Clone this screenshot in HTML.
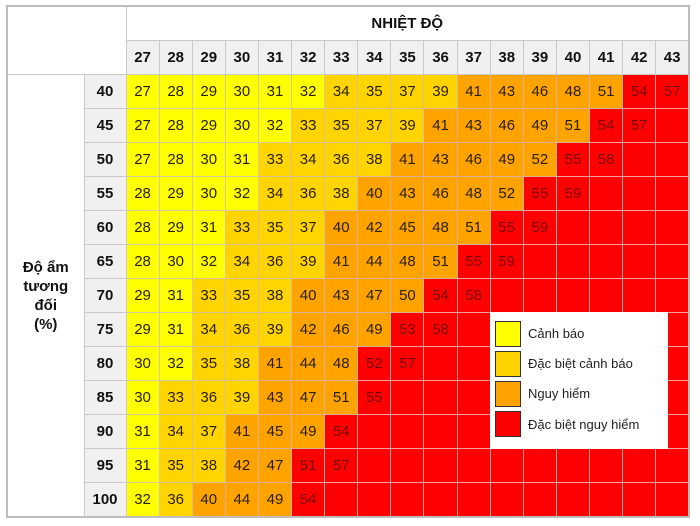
<!DOCTYPE html>
<html><head><meta charset="utf-8"><style>
body{margin:0;background:#fff;width:700px;height:526px;overflow:hidden;font-family:"Liberation Sans",sans-serif;}
table{position:absolute;left:6px;top:5px;border-collapse:collapse;table-layout:fixed;width:684px;border:2px solid #bdbdbd;}
td{border:1px solid #c9c9c9;height:33px;padding:0;text-align:center;font-size:15px;color:#2a2000;}
.h{background:#f0f0f0;font-weight:bold;color:#111;}
.y{background:#ffff00;border-color:#d4c9a0}
.g{background:#ffd400;border-color:#d8c090}
.o{background:#ffa300;border-color:#dcb090}
.r{background:#ff0000;color:#7a0000;border-color:#f4a0a0}
.legend{position:absolute;left:490px;top:312px;width:178px;height:137px;background:#fff;}
.sw{position:absolute;left:5px;width:24px;height:24px;border:1.5px solid #333;}
.lt{position:absolute;left:38px;font-size:13px;color:#222;}
</style></head><body>
<table>
<colgroup><col style="width:77px"><col style="width:42px"><col span="17"></colgroup>
<tr><td rowspan="2" colspan="2" style="background:#fff"></td><td colspan="17" style="background:#fff;font-weight:bold;font-size:15px;color:#111">NHIỆT ĐỘ</td></tr>
<tr><td class="h">27</td><td class="h">28</td><td class="h">29</td><td class="h">30</td><td class="h">31</td><td class="h">32</td><td class="h">33</td><td class="h">34</td><td class="h">35</td><td class="h">36</td><td class="h">37</td><td class="h">38</td><td class="h">39</td><td class="h">40</td><td class="h">41</td><td class="h">42</td><td class="h">43</td></tr>
<tr><td rowspan="13" style="background:#fff;font-weight:bold;font-size:15px;color:#111;line-height:19px">Độ ẩm<br>tương<br>đối<br>(%)</td><td class="h">40</td><td class="y">27</td><td class="y">28</td><td class="y">29</td><td class="y">30</td><td class="y">31</td><td class="y">32</td><td class="g">34</td><td class="g">35</td><td class="g">37</td><td class="g">39</td><td class="o">41</td><td class="o">43</td><td class="o">46</td><td class="o">48</td><td class="o">51</td><td class="r">54</td><td class="r">57</td></tr>
<tr><td class="h">45</td><td class="y">27</td><td class="y">28</td><td class="y">29</td><td class="y">30</td><td class="y">32</td><td class="g">33</td><td class="g">35</td><td class="g">37</td><td class="g">39</td><td class="o">41</td><td class="o">43</td><td class="o">46</td><td class="o">49</td><td class="o">51</td><td class="r">54</td><td class="r">57</td><td class="r"></td></tr>
<tr><td class="h">50</td><td class="y">27</td><td class="y">28</td><td class="y">30</td><td class="y">31</td><td class="g">33</td><td class="g">34</td><td class="g">36</td><td class="g">38</td><td class="o">41</td><td class="o">43</td><td class="o">46</td><td class="o">49</td><td class="o">52</td><td class="r">55</td><td class="r">58</td><td class="r"></td><td class="r"></td></tr>
<tr><td class="h">55</td><td class="y">28</td><td class="y">29</td><td class="y">30</td><td class="y">32</td><td class="g">34</td><td class="g">36</td><td class="g">38</td><td class="o">40</td><td class="o">43</td><td class="o">46</td><td class="o">48</td><td class="o">52</td><td class="r">55</td><td class="r">59</td><td class="r"></td><td class="r"></td><td class="r"></td></tr>
<tr><td class="h">60</td><td class="y">28</td><td class="y">29</td><td class="y">31</td><td class="g">33</td><td class="g">35</td><td class="g">37</td><td class="o">40</td><td class="o">42</td><td class="o">45</td><td class="o">48</td><td class="o">51</td><td class="r">55</td><td class="r">59</td><td class="r"></td><td class="r"></td><td class="r"></td><td class="r"></td></tr>
<tr><td class="h">65</td><td class="y">28</td><td class="y">30</td><td class="y">32</td><td class="g">34</td><td class="g">36</td><td class="g">39</td><td class="o">41</td><td class="o">44</td><td class="o">48</td><td class="o">51</td><td class="r">55</td><td class="r">59</td><td class="r"></td><td class="r"></td><td class="r"></td><td class="r"></td><td class="r"></td></tr>
<tr><td class="h">70</td><td class="y">29</td><td class="y">31</td><td class="g">33</td><td class="g">35</td><td class="g">38</td><td class="o">40</td><td class="o">43</td><td class="o">47</td><td class="o">50</td><td class="r">54</td><td class="r">58</td><td class="r"></td><td class="r"></td><td class="r"></td><td class="r"></td><td class="r"></td><td class="r"></td></tr>
<tr><td class="h">75</td><td class="y">29</td><td class="y">31</td><td class="g">34</td><td class="g">36</td><td class="g">39</td><td class="o">42</td><td class="o">46</td><td class="o">49</td><td class="r">53</td><td class="r">58</td><td class="r"></td><td class="r"></td><td class="r"></td><td class="r"></td><td class="r"></td><td class="r"></td><td class="r"></td></tr>
<tr><td class="h">80</td><td class="y">30</td><td class="y">32</td><td class="g">35</td><td class="g">38</td><td class="o">41</td><td class="o">44</td><td class="o">48</td><td class="r">52</td><td class="r">57</td><td class="r"></td><td class="r"></td><td class="r"></td><td class="r"></td><td class="r"></td><td class="r"></td><td class="r"></td><td class="r"></td></tr>
<tr><td class="h">85</td><td class="y">30</td><td class="g">33</td><td class="g">36</td><td class="g">39</td><td class="o">43</td><td class="o">47</td><td class="o">51</td><td class="r">55</td><td class="r"></td><td class="r"></td><td class="r"></td><td class="r"></td><td class="r"></td><td class="r"></td><td class="r"></td><td class="r"></td><td class="r"></td></tr>
<tr><td class="h">90</td><td class="y">31</td><td class="g">34</td><td class="g">37</td><td class="o">41</td><td class="o">45</td><td class="o">49</td><td class="r">54</td><td class="r"></td><td class="r"></td><td class="r"></td><td class="r"></td><td class="r"></td><td class="r"></td><td class="r"></td><td class="r"></td><td class="r"></td><td class="r"></td></tr>
<tr><td class="h">95</td><td class="y">31</td><td class="g">35</td><td class="g">38</td><td class="o">42</td><td class="o">47</td><td class="r">51</td><td class="r">57</td><td class="r"></td><td class="r"></td><td class="r"></td><td class="r"></td><td class="r"></td><td class="r"></td><td class="r"></td><td class="r"></td><td class="r"></td><td class="r"></td></tr>
<tr><td class="h">100</td><td class="y">32</td><td class="g">36</td><td class="o">40</td><td class="o">44</td><td class="o">49</td><td class="r">54</td><td class="r"></td><td class="r"></td><td class="r"></td><td class="r"></td><td class="r"></td><td class="r"></td><td class="r"></td><td class="r"></td><td class="r"></td><td class="r"></td><td class="r"></td></tr>
</table>
<div class="legend">
<div class="sw" style="top:9px;background:#ffff00"></div><div class="lt" style="top:14px">Cảnh báo</div>
<div class="sw" style="top:39px;background:#ffd400"></div><div class="lt" style="top:44px">Đặc biệt cảnh báo</div>
<div class="sw" style="top:69px;background:#ffa300"></div><div class="lt" style="top:74px">Nguy hiểm</div>
<div class="sw" style="top:99px;background:#ff0000"></div><div class="lt" style="top:105px">Đặc biệt nguy hiểm</div>
</div>
</body></html>
